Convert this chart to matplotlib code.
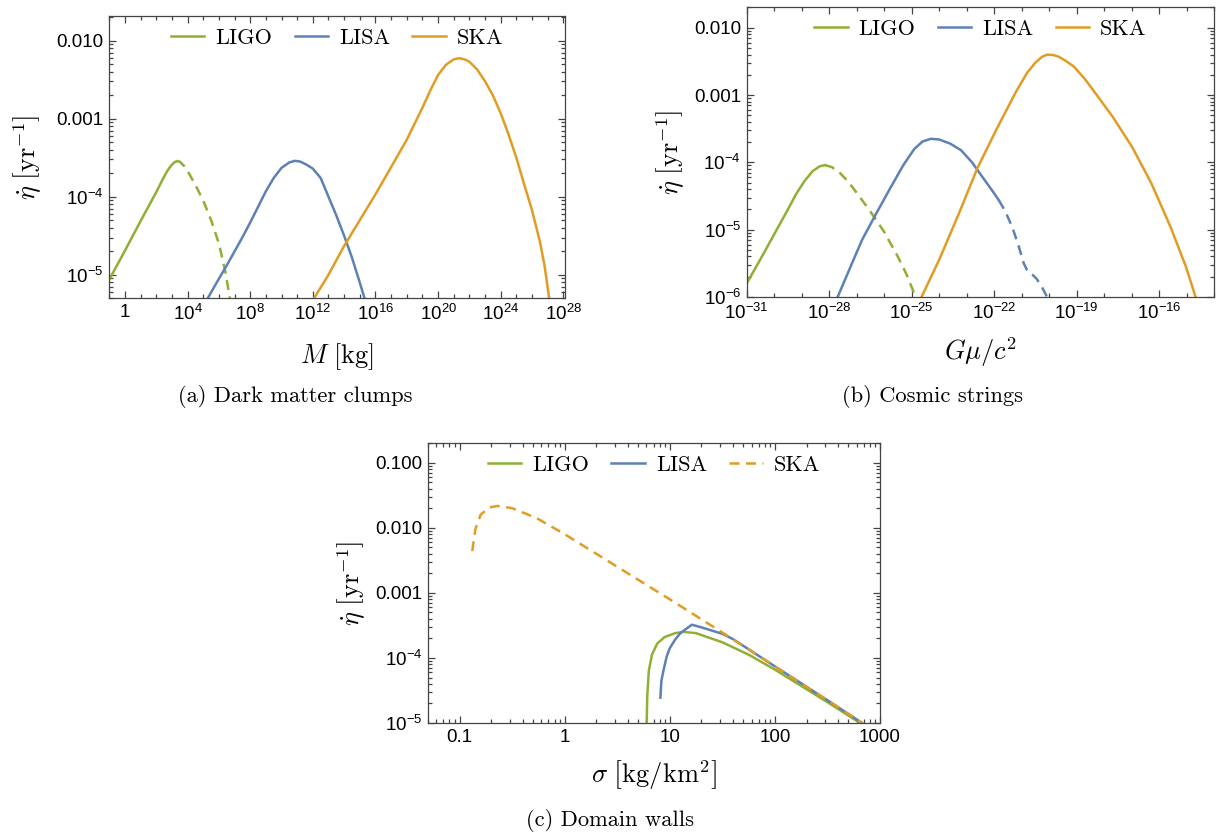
import numpy as np
import matplotlib
matplotlib.use('Agg')
import matplotlib.pyplot as plt
from matplotlib.ticker import FixedLocator, FuncFormatter, NullFormatter, LogLocator

plt.rcParams['font.family'] = ['Liberation Sans', 'DejaVu Sans']
plt.rcParams['mathtext.fontset'] = 'cm'
plt.rcParams['axes.unicode_minus'] = True

GREEN = '#8FB032'
BLUE = '#5E81B5'
ORANGE = '#E19C24'

# values as (log10 x, log10 eta_dot)
# (a) dark matter clumps, x = M [kg]
a_ligo_solid = [(-1.0, -5.06), (0.0, -4.69), (1.0, -4.31), (2.0, -3.94), (2.4, -3.78),
                (2.7, -3.67), (2.95, -3.6), (3.15, -3.56), (3.3, -3.545)]
a_ligo_dash = [(3.3, -3.545), (3.5, -3.55), (3.75, -3.6), (4.0, -3.67), (4.5, -3.85),
               (5.0, -4.05), (5.5, -4.3), (6.0, -4.6), (6.4, -4.95), (6.7, -5.3)]
a_lisa = [(5.29, -5.3), (6.0, -5.05), (6.5, -4.88), (7.0, -4.7), (7.5, -4.52), (8.0, -4.33),
          (8.5, -4.13), (9.0, -3.93), (9.5, -3.76), (10.0, -3.63), (10.5, -3.56), (10.86, -3.54),
          (11.2, -3.55), (11.6, -3.59), (12.0, -3.64), (12.5, -3.76), (13.0, -4.0), (13.5, -4.24),
          (14.0, -4.5), (14.5, -4.78), (15.0, -5.1), (15.3, -5.3)]
a_ska = [(12.08, -5.3), (13.0, -5.0), (14.0, -4.63), (15.0, -4.3), (16.0, -3.97), (17.0, -3.62),
         (18.0, -3.27), (19.0, -2.86), (19.5, -2.64), (20.0, -2.44), (20.5, -2.31), (21.0, -2.24),
         (21.35, -2.225), (21.7, -2.24), (22.0, -2.27), (22.5, -2.37), (23.0, -2.52), (23.5, -2.7),
         (24.0, -2.93), (24.5, -3.2), (25.0, -3.5), (25.5, -3.84), (26.0, -4.17), (26.5, -4.57),
         (26.8, -4.88), (27.1, -5.3)]

# (b) cosmic strings, x = G mu / c^2
b_ligo_solid = [(-31.0, -5.8), (-30.5, -5.44), (-30.0, -5.07), (-29.5, -4.7), (-29.2, -4.47),
                (-28.9, -4.28), (-28.6, -4.13), (-28.35, -4.06), (-28.15, -4.04)]
b_ligo_dash = [(-28.15, -4.04), (-27.9, -4.07), (-27.6, -4.16), (-27.3, -4.29), (-27.0, -4.45),
               (-26.5, -4.73), (-26.0, -5.03), (-25.5, -5.4), (-25.2, -5.65), (-24.85, -6.0)]
b_lisa_solid = [(-27.69, -6.0), (-27.2, -5.53), (-26.8, -5.15), (-26.3, -4.77), (-25.8, -4.4),
                (-25.3, -4.04), (-24.9, -3.8), (-24.6, -3.69), (-24.3, -3.65), (-24.0, -3.66),
                (-23.6, -3.72), (-23.2, -3.82), (-22.8, -4.0), (-22.4, -4.23), (-22.1, -4.4),
                (-21.83, -4.56)]
b_lisa_dash = [(-21.83, -4.56), (-21.6, -4.72), (-21.34, -4.96), (-21.1, -5.25), (-20.92, -5.5),
               (-20.8, -5.6), (-20.6, -5.67), (-20.45, -5.73), (-20.25, -5.86), (-20.07, -6.0)]
b_ska = [(-24.64, -6.0), (-24.0, -5.45), (-23.3, -4.78), (-22.6, -4.08), (-21.9, -3.5),
         (-21.2, -2.95), (-20.8, -2.67), (-20.5, -2.52), (-20.25, -2.43), (-20.07, -2.40),
         (-19.85, -2.405), (-19.65, -2.43), (-19.4, -2.49), (-19.09, -2.58), (-18.7, -2.76),
         (-18.39, -2.93), (-17.69, -3.32), (-16.98, -3.77), (-16.28, -4.31), (-15.58, -4.96),
         (-15.02, -5.55), (-14.67, -6.0)]

# (c) domain walls, x = sigma [kg/km^2]
c_ligo = [(0.78, -5.0), (0.785, -4.6), (0.8, -4.2), (0.83, -3.95), (0.88, -3.78), (0.95, -3.68),
          (1.05, -3.62), (1.13, -3.6), (1.25, -3.62), (1.5, -3.76), (1.75, -3.95), (2.0, -4.18),
          (2.5, -4.68), (2.83, -5.02)]
c_lisa = [(0.91, -4.61), (0.92, -4.35), (0.94, -4.19), (0.97, -3.98), (1.0, -3.85), (1.05, -3.72),
          (1.1, -3.62), (1.15, -3.56), (1.21, -3.49), (1.3, -3.53), (1.4, -3.58), (1.5, -3.63),
          (1.6, -3.71), (2.0, -4.13), (2.5, -4.65), (2.83, -5.0)]
c_ska = [(-0.88, -2.36), (-0.85, -2.02), (-0.8, -1.8), (-0.72, -1.69), (-0.64, -1.665),
         (-0.5, -1.7), (-0.27, -1.85), (0.0, -2.1), (0.5, -2.6), (1.0, -3.1), (1.5, -3.61),
         (2.0, -4.13), (2.5, -4.65), (2.83, -5.0)]


def xy(pts):
    arr = np.array(pts)
    return 10 ** arr[:, 0], 10 ** arr[:, 1]


def y_fmt(v, pos):
    e = int(round(np.log10(v)))
    if e >= -3:
        return '%.3f' % v
    return r'$\mathregular{10^{%d}}$' % e


def x_fmt_pow(v, pos):
    e = int(round(np.log10(v)))
    if e == 0:
        return '1'
    return r'$\mathregular{10^{%d}}$' % e


def x_fmt_plain(v, pos):
    return '%g' % v


def style(ax, xmaj, xmin, ymaj, xfmt):
    ax.set_xscale('log')
    ax.set_yscale('log')
    ax.xaxis.set_major_locator(FixedLocator(xmaj))
    if xmin is None:
        ax.xaxis.set_minor_locator(LogLocator(base=10, subs=np.arange(2, 10), numticks=50))
    else:
        ax.xaxis.set_minor_locator(FixedLocator(xmin))
    ax.xaxis.set_major_formatter(FuncFormatter(xfmt))
    ax.xaxis.set_minor_formatter(NullFormatter())
    ax.yaxis.set_major_locator(FixedLocator(ymaj))
    ax.yaxis.set_minor_locator(LogLocator(base=10, subs=np.arange(2, 10), numticks=50))
    ax.yaxis.set_major_formatter(FuncFormatter(y_fmt))
    ax.yaxis.set_minor_formatter(NullFormatter())
    ax.tick_params(which='both', direction='in', top=True, right=True, colors='#444444',
                   labelcolor='black', labelsize=13.5, width=0.9)
    ax.tick_params(which='major', length=5, pad=4)
    ax.tick_params(which='minor', length=2.8)
    for s in ax.spines.values():
        s.set_color('#444444')
        s.set_linewidth(0.9)


def legend(ax):
    ax.legend(loc='upper center', bbox_to_anchor=(0.5, 1.0), ncol=3, frameon=False,
              prop={'family': 'cmr10', 'size': 16}, handlelength=1.5, handletextpad=0.5,
              columnspacing=1.0, borderaxespad=0.15)


fig = plt.figure(figsize=(12.19, 8.32), dpi=100)
ax_a = fig.add_axes([0.0897, 0.6415, 0.3738, 0.3393])
ax_b = fig.add_axes([0.6125, 0.643, 0.3834, 0.3489])
ax_c = fig.add_axes([0.3511, 0.131, 0.3708, 0.3365])

lw = 1.8
dash = (4.0, 2.6)
ylab = r'$\dot{\eta}\ \left[\mathrm{yr}^{-1}\right]$'

# (a)
ax_a.plot(*xy(a_ligo_solid), color=GREEN, lw=lw, label='LIGO')
ax_a.plot(*xy(a_ligo_dash), color=GREEN, lw=lw, dashes=dash)
ax_a.plot(*xy(a_lisa), color=BLUE, lw=lw, label='LISA')
ax_a.plot(*xy(a_ska), color=ORANGE, lw=lw, label='SKA')
style(ax_a, [10.0 ** k for k in range(0, 29, 4)],
      [10.0 ** k for k in range(-1, 29) if k % 4 != 0],
      [1e-5, 1e-4, 1e-3, 1e-2], x_fmt_pow)
ax_a.set_xlim(10 ** -1.0, 10 ** 28.11)
ax_a.set_ylim(5e-6, 0.0207)
ax_a.set_xlabel(r'$M\ [\mathrm{kg}]$', fontsize=19)
ax_a.set_ylabel(ylab, fontsize=19)
ax_a.xaxis.set_label_coords(0.5, -0.152)
ax_a.yaxis.set_label_coords(-0.143, 0.5)
legend(ax_a)

# (b)
ax_b.plot(*xy(b_ligo_solid), color=GREEN, lw=lw, label='LIGO')
ax_b.plot(*xy(b_ligo_dash), color=GREEN, lw=lw, dashes=dash)
ax_b.plot(*xy(b_lisa_solid), color=BLUE, lw=lw, label='LISA')
ax_b.plot(*xy(b_lisa_dash), color=BLUE, lw=lw, dashes=dash)
ax_b.plot(*xy(b_ska), color=ORANGE, lw=lw, label='SKA')
style(ax_b, [10.0 ** k for k in range(-31, -13, 3)],
      [10.0 ** k for k in range(-31, -13) if (k + 31) % 3 != 0],
      [1e-6, 1e-5, 1e-4, 1e-3, 1e-2], x_fmt_pow)
ax_b.set_xlim(1e-31, 1e-14)
ax_b.set_ylim(1e-6, 0.0205)
ax_b.set_xlabel(r'$G\mu/c^2$', fontsize=19)
ax_b.set_ylabel(ylab, fontsize=19)
ax_b.xaxis.set_label_coords(0.5, -0.131)
ax_b.yaxis.set_label_coords(-0.128, 0.5)
legend(ax_b)

# (c)
ax_c.plot(*xy(c_ligo), color=GREEN, lw=lw, label='LIGO')
ax_c.plot(*xy(c_lisa), color=BLUE, lw=lw, label='LISA')
ax_c.plot(*xy(c_ska), color=ORANGE, lw=lw, dashes=dash, label='SKA')
style(ax_c, [0.1, 1, 10, 100, 1000], None, [1e-5, 1e-4, 1e-3, 1e-2, 1e-1], x_fmt_plain)
ax_c.set_xlim(0.05, 1000)
ax_c.set_ylim(1e-5, 0.2)
ax_c.set_xlabel(r'$\sigma\ \left[\mathrm{kg}/\mathrm{km}^2\right]$', fontsize=19)
ax_c.set_ylabel(ylab, fontsize=19)
ax_c.xaxis.set_label_coords(0.5, -0.127)
ax_c.yaxis.set_label_coords(-0.132, 0.5)
legend(ax_c)

cap = {'family': 'cmr10', 'size': 16.2}
fig.text(0.242, 0.523, '(a) Dark matter clumps', ha='center', va='center', fontdict=cap)
fig.text(0.765, 0.523, '(b) Cosmic strings', ha='center', va='center', fontdict=cap)
fig.text(0.5, 0.0144, '(c) Domain walls', ha='center', va='center', fontdict=cap)

fig.savefig('out.png', dpi=100)
